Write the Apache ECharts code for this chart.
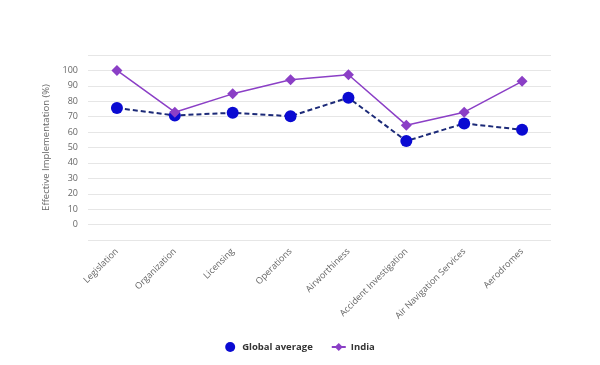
<!DOCTYPE html>
<html><head><meta charset="utf-8">
<script src="https://cdn.jsdelivr.net/npm/echarts@6/dist/echarts.min.js"></script>
<style>html,body{margin:0;padding:0;background:#fff}#c{width:600px;height:365px}</style>
</head><body><div id="c"></div>
<script>
const categories = ["Legislation","Organization","Licensing","Operations","Airworthiness","Accident Investigation","Air Navigation Services","Aerodromes"];
const globalAverage = [75.6, 70.8, 72.5, 70.3, 82.3, 54.2, 65.6, 61.5];
const india = [100, 72.9, 84.8, 94.0, 97.2, 64.5, 72.9, 92.9];
const yTicks = [0,10,20,30,40,50,60,70,80,90,100];
const seriesNames = ["Global average","India"];

const chart = echarts.init(document.getElementById('c'), null, {renderer:'canvas'});
chart.setOption({
  animation:false,
  backgroundColor:'#fff',
  textStyle:{fontFamily:'"Open Sans", sans-serif'},
  grid:{left:88,right:49,top:55,bottom:125,containLabel:false},
  xAxis:{type:'category',data:categories,boundaryGap:true,
    axisLine:{show:false},axisTick:{show:false},
    axisLabel:{rotate:45,fontSize:9,color:'#666',margin:10,interval:0,fontFamily:'"Open Sans", sans-serif'}},
  yAxis:{type:'value',min:-10,max:110,interval:10,
    name:'Effective Implementation (%)',nameLocation:'middle',nameGap:33,
    nameTextStyle:{fontSize:9.5,color:'#666',fontFamily:'"Open Sans", sans-serif'},
    axisLine:{show:false},axisTick:{show:false},
    axisLabel:{fontSize:9,color:'#666',margin:10,
      formatter:v=> yTicks.indexOf(v)>=0 ? String(v) : ''},
    splitLine:{lineStyle:{color:'#e6e6e6',width:1}}},
  legend:{bottom:8,left:'center',itemGap:18,itemWidth:14,itemHeight:10,
    textStyle:{fontSize:9.5,fontWeight:'bold',color:'#333',fontFamily:'"Open Sans", sans-serif'},
    data:[{name:seriesNames[0],icon:'circle'},{name:seriesNames[1]}]},
  series:[
    {name:seriesNames[0],type:'line',data:globalAverage,symbol:'circle',symbolSize:12,
      itemStyle:{color:'#0a0ad2'},lineStyle:{color:'#1c2a78',width:2,type:[5,3]},z:2},
    {name:seriesNames[1],type:'line',data:india,symbol:'diamond',symbolSize:11,
      itemStyle:{color:'#8b3fc6'},lineStyle:{color:'#8b3fc6',width:1.5},z:3}
  ]
});
</script></body></html>
